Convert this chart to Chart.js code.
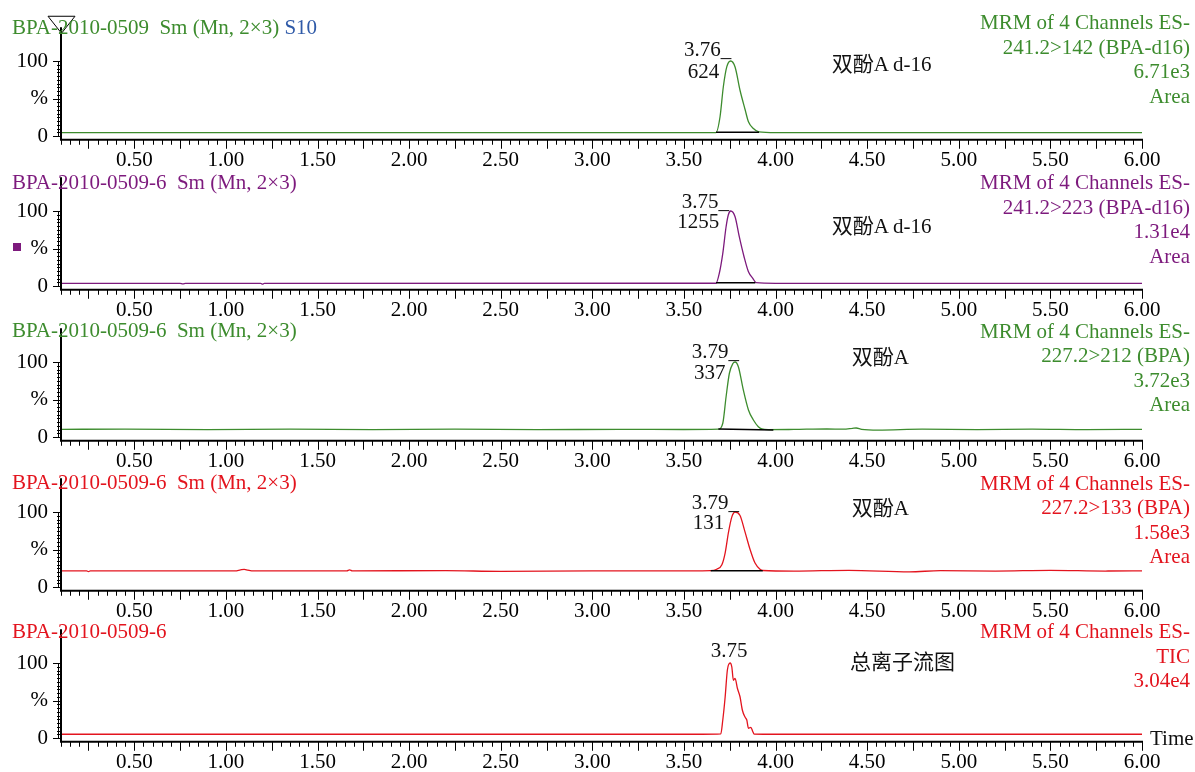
<!DOCTYPE html>
<html>
<head>
<meta charset="utf-8">
<title>BPA MRM chromatograms</title>
<script src="https://cdn.jsdelivr.net/npm/chart.js@4.4.0/dist/chart.umd.min.js"></script>
<style>
  html, body { margin: 0; padding: 0; background: #fff; }
  #page { position: relative; width: 1195px; height: 772px; overflow: hidden;
          font-family: "Liberation Serif", "Noto Sans CJK SC", serif; font-size: 21px; line-height: 21px; color: #111; }
  #page canvas { position: absolute; left: 0; }
  .t { position: absolute; white-space: pre; }
  .hdr { position: absolute; right: 5px; text-align: right; line-height: 24.5px; white-space: pre; }
  .sq { position: absolute; width: 8px; height: 8px; }
</style>
</head>
<body>
<div id="page"></div>
<script>
// ---- data (time in min, intensity in %) ----
const xLabelTicks = [0.5, 1.0, 1.5, 2.0, 2.5, 3.0, 3.5, 4.0, 4.5, 5.0, 5.5, 6.0];
const yLabelTicks = [0, 50, 100];

// 241.2>142 (BPA-d16)
const timeD16a = [0.10, 1.00, 2.00, 3.00, 3.60, 3.675, 3.697, 3.715, 3.734, 3.755, 3.779, 3.806, 3.834, 3.852, 3.879, 3.909, 4.00, 5.00, 6.00];
const pctD16a  = [4.5, 4.5, 4.5, 4.5, 4.5, 4.6, 25.7, 65.7, 92.4, 100, 92, 61, 35, 19, 10, 5.5, 4.5, 4.5, 4.5];
const intTimeD16a = [3.675, 3.91];
const intPctD16a  = [5.0, 5.0];

// 241.2>223 (BPA-d16)
const timeD16b = [0.10, 0.75, 0.765, 0.78, 1.19, 1.20, 1.21, 3.675, 3.693, 3.712, 3.730, 3.742, 3.755, 3.779, 3.802, 3.828, 3.852, 3.876, 3.894, 4.00, 6.00];
const pctD16b  = [3.6, 3.6, 2.8, 3.6, 3.6, 2.4, 3.6, 3.7, 17, 43.6, 79, 94.7, 100, 92.4, 65.7, 39, 19, 10.3, 4.4, 3.6, 3.6];
const intTimeD16b = [3.675, 3.89];
const intPctD16b  = [4.4, 4.4];

// 227.2>212 (BPA)
const timeBpaA = [0.10, 0.45, 0.90, 1.35, 1.80, 2.25, 2.70, 3.15, 3.50, 3.688, 3.712, 3.730, 3.748, 3.767, 3.779, 3.797, 3.824, 3.852, 3.879, 3.906, 3.925, 3.96, 4.10, 4.28, 4.37, 4.42, 4.44, 4.47, 4.56, 4.80, 5.10, 5.40, 5.70, 6.00];
const pctBpaA  = [10.2, 10.6, 9.8, 10.4, 9.9, 10.5, 9.7, 10.3, 10.0, 10.5, 18.3, 53.7, 85, 98, 100, 93.7, 62.7, 36, 22.7, 13.7, 10.7, 9.8, 10.1, 10.7, 10.4, 11.5, 12, 10.2, 9.3, 10.4, 9.9, 10.5, 9.8, 10.2];
const intTimeBpaA = [3.688, 3.988];
const intPctBpaA  = [10.8, 9.4];

// 227.2>133 (BPA)
const timeBpaB = [0.10, 0.24, 0.25, 0.26, 0.60, 1.05, 1.08, 1.10, 1.12, 1.15, 1.66, 1.675, 1.69, 2.20, 2.50, 3.00, 3.40, 3.646, 3.679, 3.707, 3.725, 3.743, 3.761, 3.779, 3.806, 3.834, 3.861, 3.888, 3.915, 3.93, 4.10, 4.40, 4.73, 4.90, 5.20, 5.50, 5.80, 6.00];
const pctBpaB  = [21.5, 21.5, 20.5, 21.5, 21.5, 21.5, 22.8, 23.5, 22.5, 21.5, 21.5, 22.8, 21.5, 21.8, 20.9, 21.6, 21.4, 21.8, 23.7, 29.6, 45.5, 72.8, 93.2, 100, 95.4, 72.8, 50, 31.9, 23.7, 22, 21.2, 22.3, 20.2, 21.8, 21.2, 22.2, 21.3, 21.5];
const intTimeBpaB = [3.646, 3.93];
const intPctBpaB  = [21.8, 21.8];

// TIC
const timeTic = [0.10, 3.60, 3.701, 3.712, 3.725, 3.737, 3.752, 3.761, 3.770, 3.779, 3.792, 3.806, 3.819, 3.834, 3.843, 3.852, 3.865, 3.876, 3.883, 4.00, 6.00];
const pctTic  = [5, 5, 5.5, 24, 55, 90.7, 100, 95, 77, 79.6, 66, 55, 37, 27.6, 24, 13, 14.3, 8.4, 5.3, 5, 5];

// texts
const sampleNames = ["BPA-2010-0509  Sm (Mn, 2\u00d73)", "BPA-2010-0509-6  Sm (Mn, 2\u00d73)", "BPA-2010-0509-6  Sm (Mn, 2\u00d73)", "BPA-2010-0509-6  Sm (Mn, 2\u00d73)", "BPA-2010-0509-6"];
const channelTexts = [
  ["MRM of 4 Channels ES-", "241.2>142 (BPA-d16)", "6.71e3", "Area"],
  ["MRM of 4 Channels ES-", "241.2>223 (BPA-d16)", "1.31e4", "Area"],
  ["MRM of 4 Channels ES-", "227.2>212 (BPA)", "3.72e3", "Area"],
  ["MRM of 4 Channels ES-", "227.2>133 (BPA)", "1.58e3", "Area"],
  ["MRM of 4 Channels ES-", "TIC", "3.04e4"]
];
const peakRT   = ["3.76_", "3.75_", "3.79_", "3.79_", "3.75"];
const peakArea = ["624", "1255", "337", "131", ""];
const compounds = ["双酚A d-16", "双酚A d-16", "双酚A", "双酚A", "总离子流图"];

// ---- styles / layout ----
const FONT = '"Liberation Serif", "Times New Roman", serif';
const GREEN = "#3d8c2e", PURPLE = "#7d1a7d", RED = "#e3141e", BLUE = "#2f5aa8";

const panels = [
  { time: timeD16a, pct: pctD16a, it: intTimeD16a, ip: intPctD16a, color: GREEN, marker: true,
    top: 11, leftTop: 17.4, rightTop: 10, rtLeft: 684, rtTop: 38.9, arRight: 719.3, arTop: 60.7, nmLeft: 831.7, nmTop: 54.1 },
  { time: timeD16b, pct: pctD16b, it: intTimeD16b, ip: intPctD16b, color: PURPLE,
    top: 161, leftTop: 171.7, rightTop: 170, rtLeft: 681.7, rtTop: 191.4, arRight: 719.3, arTop: 210.7, nmLeft: 831.7, nmTop: 215.7 },
  { time: timeBpaA, pct: pctBpaA, it: intTimeBpaA, ip: intPctBpaA, color: GREEN,
    top: 312, leftTop: 320.4, rightTop: 318.7, rtLeft: 691.7, rtTop: 340.7, arRight: 725.5, arTop: 361.7, nmLeft: 851.7, nmTop: 347.4 },
  { time: timeBpaB, pct: pctBpaB, it: intTimeBpaB, ip: intPctBpaB, color: RED,
    top: 462, leftTop: 472.4, rightTop: 470.7, rtLeft: 691.7, rtTop: 491.7, arRight: 724.3, arTop: 512.4, nmLeft: 851.7, nmTop: 498.4 },
  { time: timeTic, pct: pctTic, it: [], ip: [], color: RED,
    top: 613, leftTop: 620.7, rightTop: 619, rtLeft: 710.7, rtTop: 639.7, arRight: 0, arTop: 0, nmLeft: 850, nmTop: 652.4 }
];

// axis lines and Masslynx style tick marks
const msAxes = {
  id: "msAxes",
  afterDatasetsDraw(chart, args, opts) {
    const { ctx, chartArea: a, scales: { x, y } } = chart;
    ctx.save();
    ctx.strokeStyle = "#000";
    ctx.lineWidth = 1;
    ctx.beginPath();
    for (let v = 0; v <= 100; v += 5) {
      const py = Math.round(y.getPixelForValue(v)) + 0.5;
      const len = v % 50 === 0 ? 8 : 4;
      ctx.moveTo(a.left - len, py); ctx.lineTo(a.left, py);
    }
    for (let k = 2; k <= 120; k++) {
      const px = Math.round(x.getPixelForValue(k * 0.05)) + 0.5;
      const len = k % 5 === 0 ? 9 : 5;
      ctx.moveTo(px, a.bottom); ctx.lineTo(px, a.bottom + len);
    }
    ctx.stroke();
    ctx.lineWidth = 2;
    ctx.beginPath();
    ctx.moveTo(a.left, a.top); ctx.lineTo(a.left, a.bottom + 1);
    ctx.moveTo(a.left - 1, a.bottom); ctx.lineTo(a.right + 1, a.bottom);
    ctx.stroke();
    // thicker spine between 0 and 100 %
    ctx.lineWidth = 1;
    ctx.beginPath();
    ctx.moveTo(a.left - 2.5, y.getPixelForValue(100)); ctx.lineTo(a.left - 2.5, y.getPixelForValue(0));
    ctx.stroke();
    if (opts.marker) {
      ctx.beginPath();
      ctx.moveTo(a.left - 13, a.top - 11);
      ctx.lineTo(a.left + 14, a.top - 11);
      ctx.lineTo(a.left + 0.5, a.top + 6);
      ctx.closePath();
      ctx.stroke();
    }
    ctx.restore();
  }
};

const toXY = (xs, ys) => xs.map((t, i) => ({ x: t, y: ys[i] }));

const page = document.getElementById("page");

function addText(cls, txt, style) {
  const d = document.createElement("div");
  d.className = cls;
  d.textContent = txt;
  Object.assign(d.style, style);
  page.appendChild(d);
  return d;
}

panels.forEach((p, i) => {
  const cv = document.createElement("canvas");
  cv.width = 1195; cv.height = 160;
  cv.style.top = p.top + "px";
  page.appendChild(cv);

  new Chart(cv, {
    type: "line",
    data: {
      datasets: [
        { data: toXY(p.it, p.ip), borderColor: "#000", borderWidth: 1.5, pointRadius: 0 },
        { data: toXY(p.time, p.pct), borderColor: p.color, borderWidth: 1.3, pointRadius: 0, cubicInterpolationMode: "monotone" }
      ]
    },
    options: {
      responsive: false, animation: false, devicePixelRatio: 1, events: [],
      layout: { padding: { top: 16.25, right: 53, bottom: 0, left: 0 } },
      plugins: { legend: { display: false }, tooltip: { enabled: false }, msAxes: { marker: !!p.marker } },
      scales: {
        x: {
          type: "linear", min: 0.10, max: 6.00,
          grid: { display: false, drawTicks: false }, border: { display: false },
          afterBuildTicks: s => { s.ticks = xLabelTicks.map(v => ({ value: v })); },
          afterFit: s => { s.height = 31.25; s.paddingLeft = 0; s.paddingRight = 0; },
          ticks: { padding: 8, color: "#000", font: { family: FONT, size: 21 }, maxRotation: 0, autoSkip: false,
                   callback: v => Number(v).toFixed(2) }
        },
        y: {
          min: -5, max: 145,
          grid: { display: false, drawTicks: false }, border: { display: false },
          afterBuildTicks: s => { s.ticks = yLabelTicks.map(v => ({ value: v })); },
          afterFit: s => { s.width = 61; s.paddingTop = 0; s.paddingBottom = 0; },
          ticks: { padding: 13, color: "#000", font: { family: FONT, size: 21 },
                   callback: v => (v === 50 ? "%" : String(v)) }
        }
      }
    },
    plugins: [msAxes]
  });

  // sample header (left)
  const h = addText("t", sampleNames[i], { left: "12px", top: p.leftTop + "px", color: p.color });
  if (i === 0) {
    const s = document.createElement("span");
    s.textContent = " S10";
    s.style.color = BLUE;
    h.appendChild(s);
  }
  // channel header (right)
  addText("hdr", channelTexts[i].join("\n"), { top: p.rightTop + "px", color: p.color });
  // peak annotations
  addText("t", peakRT[i], { left: p.rtLeft + "px", top: p.rtTop + "px" });
  if (peakArea[i]) addText("t", peakArea[i], { right: (1195 - p.arRight) + "px", top: p.arTop + "px" });
  addText("t", compounds[i], { left: p.nmLeft + "px", top: p.nmTop + "px" });
});

// purple marker before % of channel 2, and the time axis title
const sq = document.createElement("div");
sq.className = "sq";
Object.assign(sq.style, { left: "12.5px", top: "243px", background: PURPLE });
page.appendChild(sq);
addText("t", "Time", { left: "1150px", top: "728.4px" });
</script>
</body>
</html>
